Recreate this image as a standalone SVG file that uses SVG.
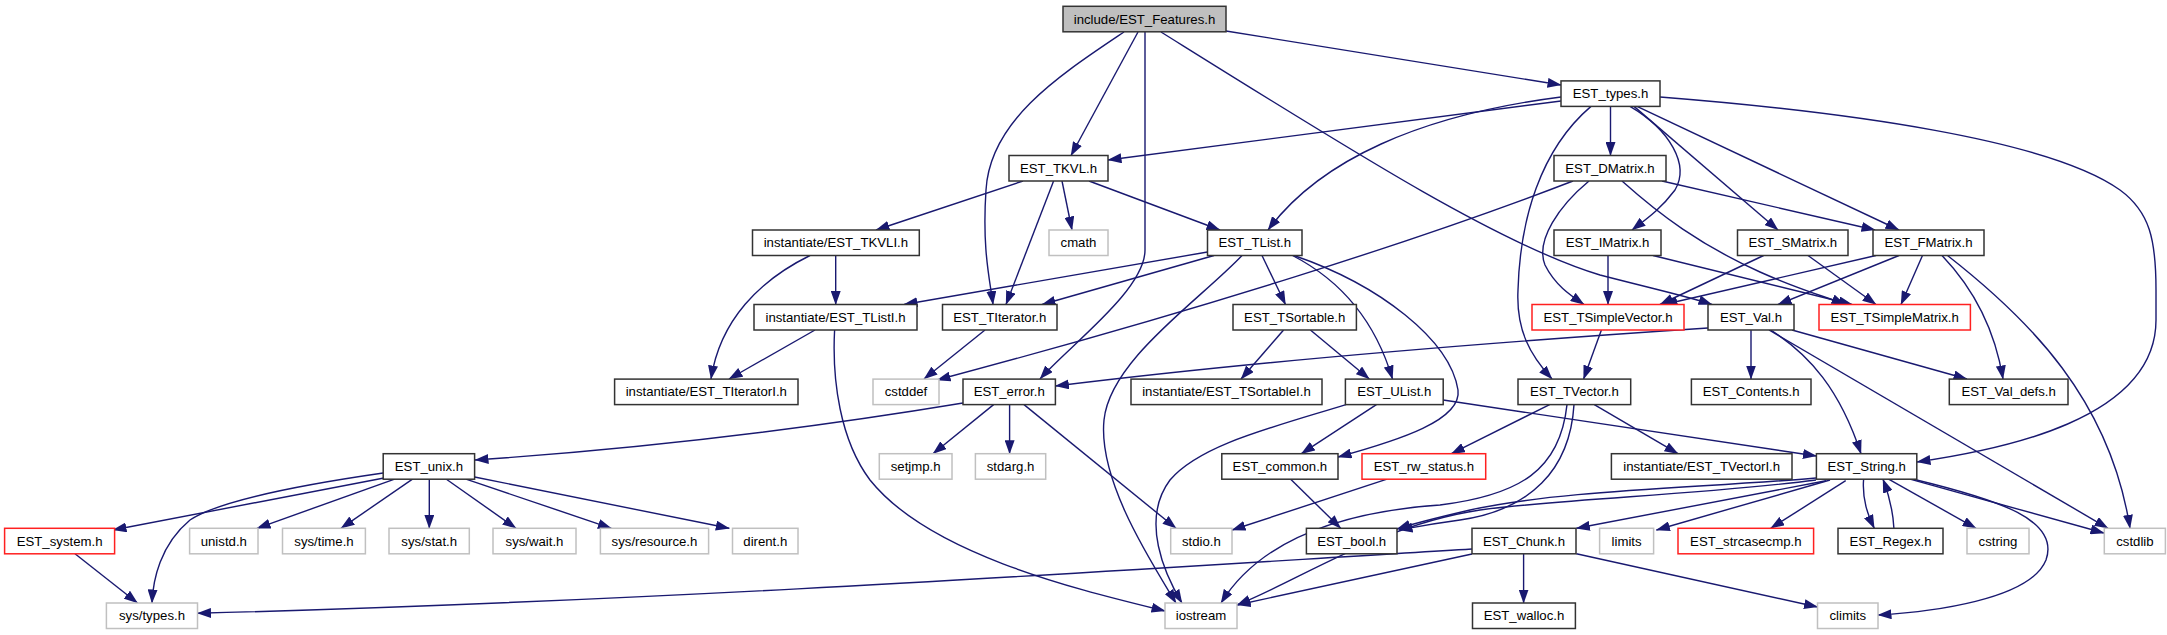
<svg xmlns="http://www.w3.org/2000/svg" width="2167" height="635" viewBox="0 0 2167 635">
<style>
rect{stroke-width:1.5}
.b{fill:#fff;stroke:#333}
.g{fill:#fff;stroke:#c0c0c0}
.r{fill:#fff;stroke:#ff2020}
.root{fill:#bfbfbf;stroke:#333}
text{font-family:"Liberation Sans",Arial,sans-serif;font-size:13.2px;text-anchor:middle;fill:#000}
#edges path{fill:none;stroke:#191970;stroke-width:1.4;marker-end:url(#arr)}
</style>
<defs>
<marker id="arr" markerUnits="userSpaceOnUse" markerWidth="14" markerHeight="10" viewBox="0 0 14 10" refX="13.5" refY="5" orient="auto">
<path d="M0,0 L14,5 L0,10 z" fill="#191970"/>
</marker>
</defs>
<rect width="2167" height="635" fill="#fff"/>
<g id="edges">
<path d="M1226,31 L1561,85"/>
<path d="M1138,32 L1071,155.5"/>
<path d="M1124,32 C1060,75 990,120 986,190 C982,250 990,280 993,304.5"/>
<path d="M1145,32 L1145,250 C1145,290 1070,345 1040,379"/>
<path d="M1161,32 C1350,150 1500,245 1600,275 C1650,288 1690,297 1712,304.5"/>
<path d="M1561,101 L1108,160"/>
<path d="M1561,97 C1420,115 1320,160 1268,230"/>
<path d="M1591,106.4 C1540,150 1520,220 1518,290 C1516,330 1530,355 1552,379"/>
<path d="M1610.5,106.4 L1610.5,155.5"/>
<path d="M1630,106.4 C1670,130 1690,165 1675,190 C1660,210 1645,220 1632,230"/>
<path d="M1634,106.4 L1778,230"/>
<path d="M1637,106.4 L1899,230"/>
<path d="M1660,97 C1850,112 2050,140 2120,190 C2150,212 2156,240 2156,290 L2156,320 C2156,420 2000,450 1917,462"/>
<path d="M1023,181 L876,230"/>
<path d="M1053.6,181 L1006,304.5"/>
<path d="M1062,181 L1072,230"/>
<path d="M1089,181 L1220,230"/>
<path d="M1573,181 C1420,240 1200,310 937,380"/>
<path d="M1589,181 C1560,205 1535,240 1545,265 C1555,285 1570,295 1584,304.5"/>
<path d="M1662,181 L1875,230"/>
<path d="M1622,181 C1660,215 1700,245 1760,272 C1800,290 1830,298 1845,304.5"/>
<path d="M1608,255.5 L1608,304.5"/>
<path d="M1653,255.5 L1852,304.5"/>
<path d="M1763.6,255.5 L1660,304.5"/>
<path d="M1808,255.5 L1876,304.5"/>
<path d="M1876,255.5 L1664,304.5"/>
<path d="M1899,255.5 L1778,304.5"/>
<path d="M1922.5,255.5 L1901,304.5"/>
<path d="M1942,255.5 C1975,290 1995,330 2003,379"/>
<path d="M1947.5,255.5 C2030,320 2110,400 2130,528.3"/>
<path d="M1207.5,252 L904,304.5"/>
<path d="M1214,255.5 L1042,304.5"/>
<path d="M1242,255.5 C1200,300 1110,360 1104,420 C1098,480 1150,560 1176,603"/>
<path d="M1262,255.5 L1285.5,304.5"/>
<path d="M1292.5,255.5 C1340,280 1375,320 1392.5,379"/>
<path d="M1294,255.5 C1380,285 1450,340 1458,390 C1462,420 1400,440 1338,457"/>
<path d="M810,255.5 C760,280 720,320 711,379"/>
<path d="M835.7,255.5 L835.7,304.5"/>
<path d="M815,330 L729,379"/>
<path d="M834.6,330 C832,380 840,440 870,480 C930,555 1080,590 1165,611"/>
<path d="M985,330 L924,379"/>
<path d="M1283.6,330 L1241,379"/>
<path d="M1310.4,330 L1369.3,379"/>
<path d="M1346,404.6 C1270,428 1200,445 1170,480 C1140,520 1165,575 1182,603"/>
<path d="M1376.4,404.6 L1301.4,453.7"/>
<path d="M1443.2,400 L1816.4,456"/>
<path d="M1549.6,404.6 L1451.4,453.7"/>
<path d="M1574,404.6 C1570,470 1530,510 1460,520 C1430,524 1415,527 1399,530"/>
<path d="M1567,404.6 C1560,470 1520,495 1440,505 C1340,512 1260,540 1221,603"/>
<path d="M1594.3,404.6 L1678,453.7"/>
<path d="M1601.4,330 L1583.6,379"/>
<path d="M1708,328 C1480,343 1250,362 1055.4,386"/>
<path d="M1751,330 L1751,379"/>
<path d="M1770.7,330 C1810,355 1840,390 1861,453.7"/>
<path d="M1769,330 L2108,528.3"/>
<path d="M1792,330 L1967,379"/>
<path d="M963,403 C800,430 650,448 475,460"/>
<path d="M993.6,404.6 L933,453.7"/>
<path d="M1009.6,404.6 L1009.6,453.7"/>
<path d="M1024,404.6 L1176,528.3"/>
<path d="M384,478 L113,530"/>
<path d="M383.2,473 C300,485 220,500 190,520 C160,545 153,580 152,603"/>
<path d="M394.6,479.2 L257,528.3"/>
<path d="M412.5,479.2 L341,528.3"/>
<path d="M429.3,479.2 L429.3,528.3"/>
<path d="M446.4,479.2 L516,528.3"/>
<path d="M466,479.2 L611.4,528.3"/>
<path d="M474.6,477 L729.3,528.3"/>
<path d="M75,553.8 L137.5,603"/>
<path d="M1290.7,479.2 L1340.7,528.3"/>
<path d="M1387,479.2 L1232,530"/>
<path d="M1816,478 C1700,488 1560,490 1470,510 C1440,517 1415,523 1397,529"/>
<path d="M1816,480 C1700,495 1570,498 1480,510 C1380,525 1300,580 1237,605"/>
<path d="M1826,480.7 L1576.4,528.3"/>
<path d="M1830,480 L1656.4,530"/>
<path d="M1845.7,480.7 L1770.7,528.3"/>
<path d="M1863.6,479.2 C1862,500 1868,515 1874.3,528.3"/>
<path d="M1893.9,528.3 C1893,510 1889,495 1883,479.2"/>
<path d="M1888.6,479.2 L1976,528.3"/>
<path d="M1910,479.2 L2104,533"/>
<path d="M1913.6,479.2 C2000,500 2060,520 2046,560 C2030,600 1930,612 1878,615"/>
<path d="M1472,549 C1200,565 700,600 197.5,613.3"/>
<path d="M1472,554 L1237,605"/>
<path d="M1523.6,553.8 L1523.6,603"/>
<path d="M1576.4,553.8 L1817.5,607"/>
</g>
<g id="n_root"><rect class="root" x="1063" y="6.3" width="163" height="25.5"/><text x="1144.5" y="23.6">include/EST_Features.h</text></g>
<g id="n_types"><rect class="b" x="1561" y="80.9" width="99" height="25.5"/><text x="1610.5" y="98.2">EST_types.h</text></g>
<g id="n_TKVL"><rect class="b" x="1009" y="155.5" width="99" height="25.5"/><text x="1058.5" y="172.8">EST_TKVL.h</text></g>
<g id="n_DMatrix"><rect class="b" x="1554" y="155.5" width="112" height="25.5"/><text x="1610" y="172.8">EST_DMatrix.h</text></g>
<g id="n_TKVLI"><rect class="b" x="752.5" y="230" width="166.8" height="25.5"/><text x="835.9" y="247.3">instantiate/EST_TKVLI.h</text></g>
<g id="n_cmath"><rect class="g" x="1049" y="230" width="59" height="25.5"/><text x="1078.5" y="247.3">cmath</text></g>
<g id="n_TList"><rect class="b" x="1207.5" y="230" width="94.5" height="25.5"/><text x="1254.8" y="247.3">EST_TList.h</text></g>
<g id="n_IMatrix"><rect class="b" x="1554" y="230" width="107" height="25.5"/><text x="1607.5" y="247.3">EST_IMatrix.h</text></g>
<g id="n_SMatrix"><rect class="b" x="1737.5" y="230" width="110.5" height="25.5"/><text x="1792.8" y="247.3">EST_SMatrix.h</text></g>
<g id="n_FMatrix"><rect class="b" x="1873" y="230" width="111" height="25.5"/><text x="1928.5" y="247.3">EST_FMatrix.h</text></g>
<g id="n_TListI"><rect class="b" x="754" y="304.5" width="163" height="25.5"/><text x="835.5" y="321.8">instantiate/EST_TListI.h</text></g>
<g id="n_TIterator"><rect class="b" x="942.5" y="304.5" width="114.5" height="25.5"/><text x="999.8" y="321.8">EST_TIterator.h</text></g>
<g id="n_TSortable"><rect class="b" x="1233" y="304.5" width="123.4" height="25.5"/><text x="1294.7" y="321.8">EST_TSortable.h</text></g>
<g id="n_TSimpleVector"><rect class="r" x="1532" y="304.5" width="152" height="25.5"/><text x="1608" y="321.8">EST_TSimpleVector.h</text></g>
<g id="n_Val"><rect class="b" x="1708" y="304.5" width="86" height="25.5"/><text x="1751" y="321.8">EST_Val.h</text></g>
<g id="n_TSimpleMatrix"><rect class="r" x="1819" y="304.5" width="151.4" height="25.5"/><text x="1894.7" y="321.8">EST_TSimpleMatrix.h</text></g>
<g id="n_TIteratorI"><rect class="b" x="614.6" y="379.1" width="183.4" height="25.5"/><text x="706.3" y="396.4">instantiate/EST_TIteratorI.h</text></g>
<g id="n_cstddef"><rect class="g" x="873" y="379.1" width="66" height="25.5"/><text x="906" y="396.4">cstddef</text></g>
<g id="n_error"><rect class="b" x="963" y="379.1" width="92.4" height="25.5"/><text x="1009.2" y="396.4">EST_error.h</text></g>
<g id="n_TSortableI"><rect class="b" x="1131" y="379.1" width="191" height="25.5"/><text x="1226.5" y="396.4">instantiate/EST_TSortableI.h</text></g>
<g id="n_UList"><rect class="b" x="1345.4" y="379.1" width="97.8" height="25.5"/><text x="1394.3" y="396.4">EST_UList.h</text></g>
<g id="n_TVector"><rect class="b" x="1518" y="379.1" width="112.7" height="25.5"/><text x="1574.4" y="396.4">EST_TVector.h</text></g>
<g id="n_Contents"><rect class="b" x="1691.4" y="379.1" width="119.6" height="25.5"/><text x="1751.2" y="396.4">EST_Contents.h</text></g>
<g id="n_Val_defs"><rect class="b" x="1949.3" y="379.1" width="118.7" height="25.5"/><text x="2008.7" y="396.4">EST_Val_defs.h</text></g>
<g id="n_unix"><rect class="b" x="383.2" y="453.7" width="91.4" height="25.5"/><text x="428.9" y="471">EST_unix.h</text></g>
<g id="n_setjmp"><rect class="g" x="879.3" y="453.7" width="72.7" height="25.5"/><text x="915.7" y="471">setjmp.h</text></g>
<g id="n_stdarg"><rect class="g" x="975.4" y="453.7" width="70.3" height="25.5"/><text x="1010.6" y="471">stdarg.h</text></g>
<g id="n_common"><rect class="b" x="1221.8" y="453.7" width="116.2" height="25.5"/><text x="1279.9" y="471">EST_common.h</text></g>
<g id="n_rw_status"><rect class="r" x="1362" y="453.7" width="123.7" height="25.5"/><text x="1423.9" y="471">EST_rw_status.h</text></g>
<g id="n_TVectorI"><rect class="b" x="1611.4" y="453.7" width="180.6" height="25.5"/><text x="1701.7" y="471">instantiate/EST_TVectorI.h</text></g>
<g id="n_String"><rect class="b" x="1816.4" y="453.7" width="100.4" height="25.5"/><text x="1866.6" y="471">EST_String.h</text></g>
<g id="n_system"><rect class="r" x="4.6" y="528.3" width="110" height="25.5"/><text x="59.6" y="545.6">EST_system.h</text></g>
<g id="n_unistd"><rect class="g" x="189.6" y="528.3" width="68.4" height="25.5"/><text x="223.8" y="545.6">unistd.h</text></g>
<g id="n_systime"><rect class="g" x="282.5" y="528.3" width="82.9" height="25.5"/><text x="324" y="545.6">sys/time.h</text></g>
<g id="n_sysstat"><rect class="g" x="389" y="528.3" width="80.3" height="25.5"/><text x="429.2" y="545.6">sys/stat.h</text></g>
<g id="n_syswait"><rect class="g" x="493" y="528.3" width="83" height="25.5"/><text x="534.5" y="545.6">sys/wait.h</text></g>
<g id="n_sysresource"><rect class="g" x="600.4" y="528.3" width="108.2" height="25.5"/><text x="654.5" y="545.6">sys/resource.h</text></g>
<g id="n_dirent"><rect class="g" x="732.5" y="528.3" width="65.5" height="25.5"/><text x="765.3" y="545.6">dirent.h</text></g>
<g id="n_stdio"><rect class="g" x="1170.7" y="528.3" width="61.3" height="25.5"/><text x="1201.4" y="545.6">stdio.h</text></g>
<g id="n_bool"><rect class="b" x="1306.4" y="528.3" width="90.6" height="25.5"/><text x="1351.7" y="545.6">EST_bool.h</text></g>
<g id="n_Chunk"><rect class="b" x="1472" y="528.3" width="104" height="25.5"/><text x="1524" y="545.6">EST_Chunk.h</text></g>
<g id="n_limits"><rect class="g" x="1599.6" y="528.3" width="54" height="25.5"/><text x="1626.6" y="545.6">limits</text></g>
<g id="n_strcasecmp"><rect class="r" x="1678" y="528.3" width="135.6" height="25.5"/><text x="1745.8" y="545.6">EST_strcasecmp.h</text></g>
<g id="n_Regex"><rect class="b" x="1838" y="528.3" width="105" height="25.5"/><text x="1890.5" y="545.6">EST_Regex.h</text></g>
<g id="n_cstring"><rect class="g" x="1967" y="528.3" width="62" height="25.5"/><text x="1998" y="545.6">cstring</text></g>
<g id="n_cstdlib"><rect class="g" x="2104.3" y="528.3" width="61.1" height="25.5"/><text x="2134.9" y="545.6">cstdlib</text></g>
<g id="n_systypes"><rect class="g" x="106.4" y="603" width="91.1" height="25.5"/><text x="152" y="620.3">sys/types.h</text></g>
<g id="n_iostream"><rect class="g" x="1165" y="603" width="72" height="25.5"/><text x="1201" y="620.3">iostream</text></g>
<g id="n_walloc"><rect class="b" x="1472.5" y="603" width="102.9" height="25.5"/><text x="1524" y="620.3">EST_walloc.h</text></g>
<g id="n_climits"><rect class="g" x="1817.5" y="603" width="60.5" height="25.5"/><text x="1847.8" y="620.3">climits</text></g>
</svg>
